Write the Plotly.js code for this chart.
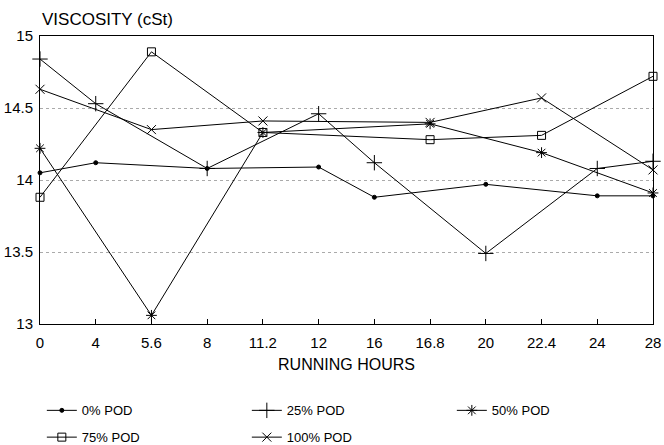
<!DOCTYPE html>
<html>
<head>
<meta charset="utf-8">
<script src="https://cdn.plot.ly/plotly-3.0.1.min.js"></script>
<style>html,body{margin:0;padding:0;background:#fff;}#chart{width:664px;height:445px;}</style>
</head>
<body>
<div id="chart"></div>
<script>
// Data
const hours = ["0", "4", "5.6", "8", "11.2", "12", "16", "16.8", "20", "22.4", "24", "28"];
const pod0   = [14.05, 14.12, null, 14.08, null, 14.09, 13.88, null, 13.97, null, 13.89, 13.89];
const pod25  = [14.84, 14.53, null, 14.08, null, 14.46, 14.12, null, 13.49, null, 14.08, 14.13];
const pod50  = [14.22, null, 13.06, null, 14.33, null, null, 14.39, null, 14.19, null, 13.91];
const pod75  = [13.88, null, 14.89, null, 14.33, null, null, 14.28, null, 14.31, null, 14.72];
const pod100 = [14.63, null, 14.35, null, 14.41, null, null, 14.40, null, 14.57, null, 14.07];
const names = ["0% POD", "25% POD", "50% POD", "75% POD", "100% POD"];
const yTicks = [13, 13.5, 14, 14.5, 15];

const series = [pod0, pod25, pod50, pod75, pod100];
const symbols = ["circle", "cross-thin-open", "asterisk-open", "square-open", "x-thin-open"];
const sizes = [4, 11, 9, 8, 9];
const legends = ["legend", "legend", "legend", "legend2", "legend2"];

const traces = series.map((s, i) => ({
  x: hours, y: s, name: names[i], type: "scatter", mode: "lines+markers",
  connectgaps: true, cliponaxis: false, legend: legends[i],
  line: {color: "#000", width: 1},
  marker: {symbol: symbols[i], size: sizes[i], color: "#000", line: {color: "#000", width: 1}}
}));

const legBase = {orientation: "h", x: 0.003, xref: "paper", xanchor: "left", yanchor: "middle",
                 entrywidth: 160, entrywidthmode: "pixels", font: {size: 13},
                 traceorder: "normal", bgcolor: "rgba(0,0,0,0)"};

const layout = {
  width: 664, height: 445,
  margin: {l: 40, r: 11, t: 36, b: 121, autoexpand: false},
  paper_bgcolor: "#fff", plot_bgcolor: "#fff",
  font: {family: "Liberation Sans, Arial, sans-serif", color: "#000"},
  showlegend: true,
  legend: Object.assign({}, legBase, {y: -0.30}),
  legend2: Object.assign({}, legBase, {y: -0.393}),
  xaxis: {type: "category", range: [0, 11], showgrid: false, zeroline: false,
          showline: true, mirror: true, linecolor: "#000", linewidth: 1,
          ticks: "inside", ticklen: 5, tickcolor: "#000", ticklabelstandoff: 5,
          automargin: false,
          tickfont: {size: 15}, title: {text: "RUNNING HOURS", font: {size: 16}, standoff: 8}},
  yaxis: {range: [13, 15], tickvals: yTicks, ticktext: yTicks.map(String),
          showgrid: true, gridcolor: "#aaa", griddash: "dot", gridwidth: 1,
          zeroline: false, showline: true, mirror: true, linecolor: "#000", linewidth: 1,
          automargin: false,
          ticks: "", tickfont: {size: 15}, ticklabelstandoff: 3},
  annotations: [{text: "VISCOSITY (cSt)", xref: "paper", yref: "paper", x: 0, y: 1,
                 xanchor: "left", yanchor: "bottom", yshift: 5, showarrow: false,
                 font: {size: 17}}]
};
Plotly.newPlot("chart", traces, layout, {displayModeBar: false, staticPlot: true});
</script>
</body>
</html>
